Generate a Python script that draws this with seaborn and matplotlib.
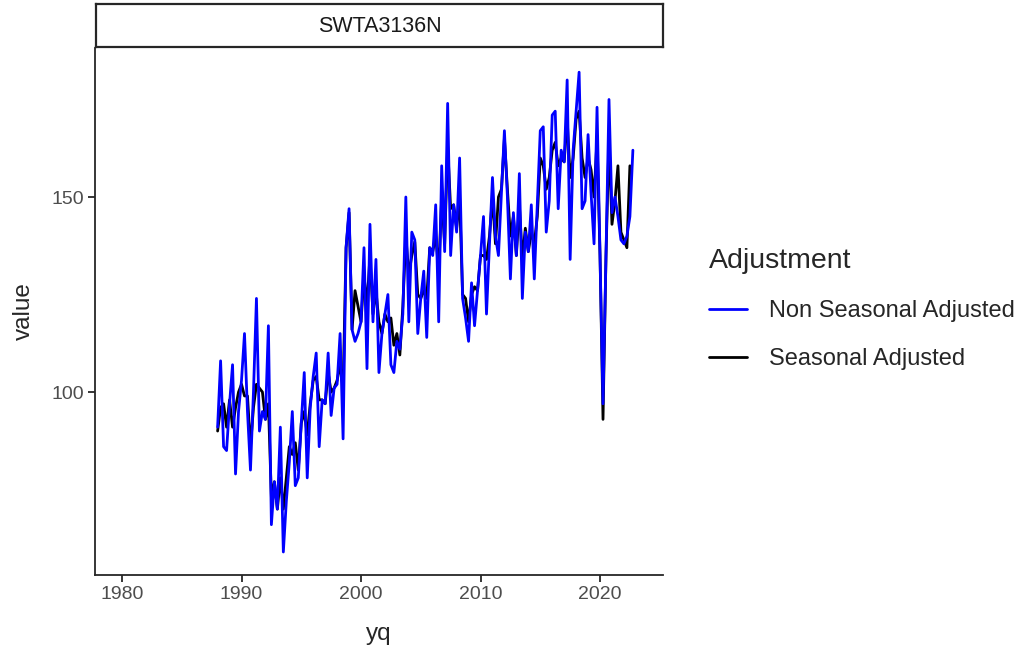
import matplotlib
matplotlib.use("Agg")
import matplotlib.pyplot as plt
import numpy as np
import pandas as pd
import seaborn as sns

# quarterly series, 1988 Q1 .. 2022 Q4
start_year = 1988
non_seasonal = [
    91, 108, 86, 85, 97, 107, 79, 95, 103, 115, 95, 80, 100, 124, 90, 95,
    93, 117, 66, 77, 70, 91, 59, 72, 82, 95, 76, 78, 92, 105, 78, 96,
    104, 110, 86, 98, 97, 110, 94, 101, 102, 115, 88, 137, 147, 116, 113, 115,
    118, 137, 106, 143, 118, 134, 105, 115, 120, 125, 107, 105, 113, 111, 120, 150,
    118, 141, 139, 115, 124, 131, 114, 137, 135, 148, 118, 158, 136, 174, 135, 148,
    141, 160, 124, 119, 113, 128, 117, 126, 135, 145, 120, 138, 155, 140, 135, 151,
    167, 150, 129, 146, 135, 156, 124, 141, 136, 148, 129, 148, 167, 168, 141, 149,
    171, 172, 147, 162, 159, 180, 134, 162, 172, 182, 147, 149, 166, 151, 138, 173,
    135, 97, 135, 175, 146, 150, 145, 139, 138, 140, 145, 162,
]
seasonal = [
    90, 96, 97, 91, 98, 91, 96, 100, 102, 99, 99, 86, 96, 102, 101, 100,
    93, 97, 73, 77, 70, 78, 70, 78, 86, 84, 87, 80, 92, 95, 89, 97,
    103, 104, 98, 98, 97, 105, 100, 101, 103, 107, 101, 137, 146, 116, 126, 122,
    118, 130, 122, 135, 120, 126, 118, 115, 120, 118, 119, 112, 115, 109.5, 122, 140,
    130, 135, 138.5, 125, 124, 126, 124, 137, 136, 140, 131, 150, 138, 163, 147, 148,
    142, 150, 125, 124, 118, 125, 127, 126, 135, 135, 134, 140, 150, 138, 150, 152,
    165, 152, 140, 145, 135, 148, 134, 142, 136, 141, 138, 145, 160, 158, 152, 155,
    162, 164, 158, 160, 159, 170, 155, 160, 170, 172, 160, 155, 160, 157, 150, 165,
    135, 93, 135, 165, 143, 149, 158, 141, 139, 137, 158, np.nan,
]
x_ticks = [1980, 1990, 2000, 2010, 2020]
y_ticks = [100, 150]
series_title = "SWTA3136N"
legend_order = ["Non Seasonal Adjusted", "Seasonal Adjusted"]
line_colors = {"Non Seasonal Adjusted": "blue", "Seasonal Adjusted": "black"}

yq = start_year + np.arange(len(non_seasonal)) / 4
df = pd.concat([
    pd.DataFrame({"yq": yq, "value": non_seasonal, "Adjustment": "Non Seasonal Adjusted"}),
    pd.DataFrame({"yq": yq, "value": seasonal, "Adjustment": "Seasonal Adjusted"}),
], ignore_index=True)

sns.set_style("ticks")
plt.rcParams["font.family"] = ["Liberation Sans", "DejaVu Sans"]

W, H = 1024, 648
fig = plt.figure(figsize=(W / 100, H / 100), dpi=100)
ax = fig.add_axes([95 / W, 1 - 575 / H, (663 - 95) / W, (575 - 48) / H])

# black drawn first so blue sits on top
sns.lineplot(data=df, x="yq", y="value", hue="Adjustment",
             hue_order=legend_order[::-1], palette=line_colors,
             linewidth=2.0, ax=ax, estimator=None)

ax.set_xlim(1977.74, 2025.27)
ax.set_ylim(53.1, 188.2)
ax.set_xticks(x_ticks)
ax.set_yticks(y_ticks)
ax.tick_params(axis="both", labelsize=14, colors="#4D4D4D", length=5, width=1.1, pad=3)
ax.tick_params(axis="both", color="black")
for s in ["top", "right"]:
    ax.spines[s].set_visible(False)
for s in ["left", "bottom"]:
    ax.spines[s].set_linewidth(1.3)
ax.set_xlabel("yq", fontsize=17.5, labelpad=14)
ax.set_ylabel("value", fontsize=17.5, labelpad=12)

# facet strip
strip = fig.add_axes([96 / W, 1 - 47 / H, (663 - 96) / W, (47 - 4) / H])
strip.set_xticks([])
strip.set_yticks([])
for s in strip.spines.values():
    s.set_linewidth(1.6)
strip.text(0.5, 0.48, series_title, ha="center", va="center", fontsize=15.5, color="#1A1A1A")

handles, labels = ax.get_legend_handles_labels()
lookup = dict(zip(labels, handles))
ax.legend([lookup[k] for k in legend_order], legend_order, title="Adjustment",
          loc="upper left", bbox_to_anchor=(701 / W, 1 - 240 / H),
          bbox_transform=fig.transFigure, frameon=False, fontsize=17,
          title_fontsize=20.5, handlelength=1.6, handletextpad=0.95,
          labelspacing=1.1, borderpad=0.34, borderaxespad=0,
          alignment="left")

fig.savefig("out.png", dpi=100)
